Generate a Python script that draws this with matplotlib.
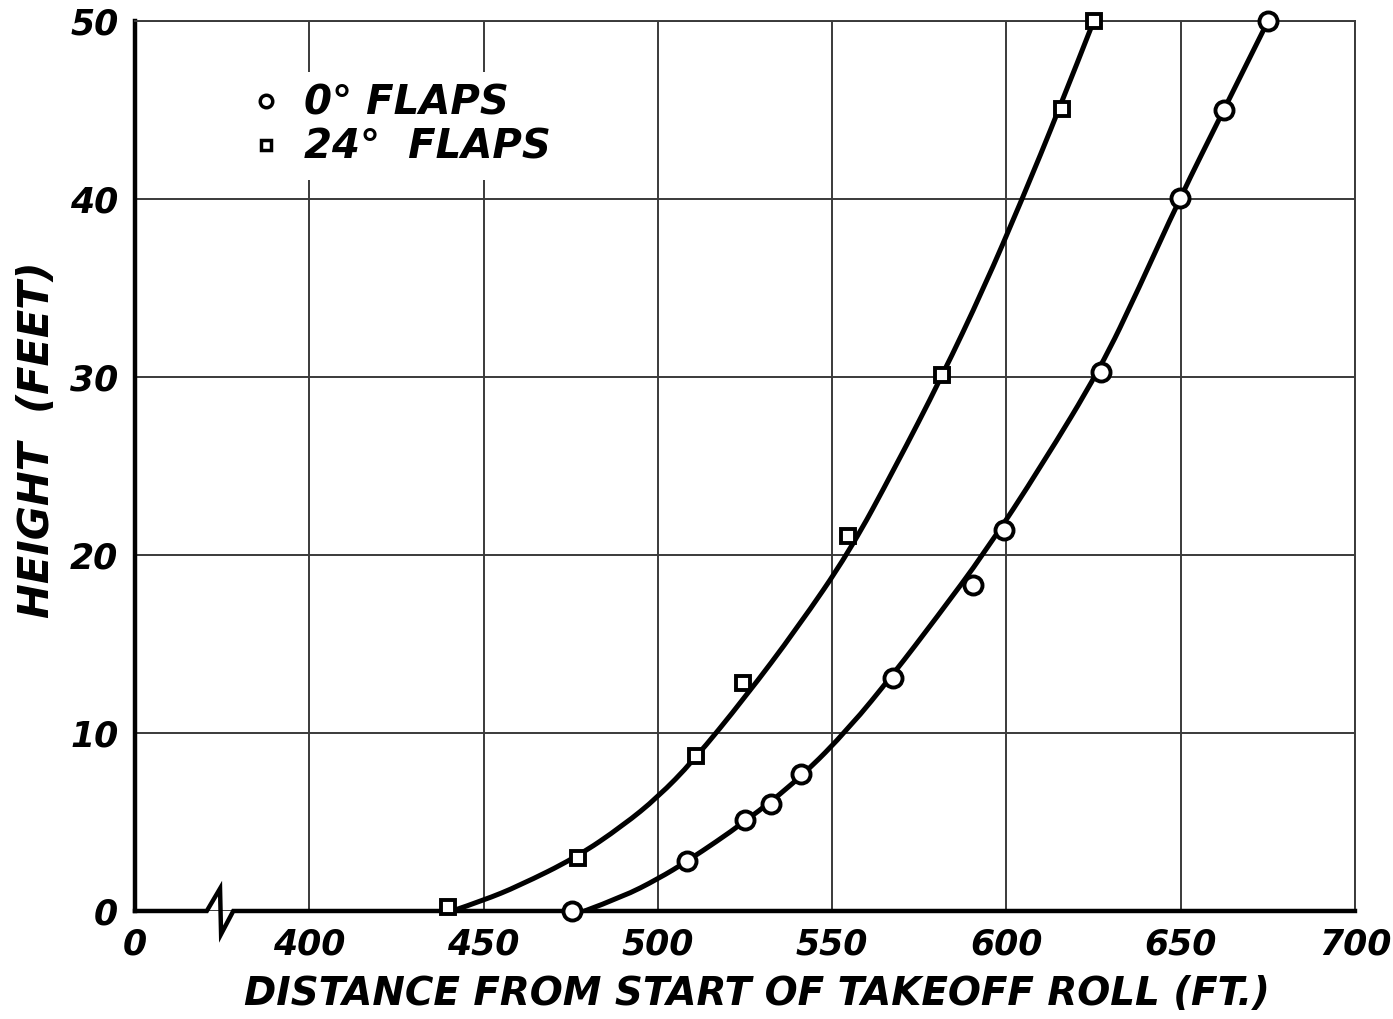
import numpy as np
import matplotlib.pyplot as plt
from matplotlib.lines import Line2D
from matplotlib.path import Path
from matplotlib.patches import PathPatch

plt.rcParams['font.family'] = 'DejaVu Sans'
plt.rcParams['font.weight'] = 'bold'
plt.rcParams['font.style'] = 'italic'

# test points, 0 deg flaps (circles)
flap0_x = [475.5, 508.5, 525.0, 532.5, 541.0, 567.5, 590.5, 599.2, 627.0, 649.7, 662.3, 675.0]
flap0_y = [0.0, 2.8, 5.1, 6.0, 7.7, 13.1, 18.3, 21.4, 30.3, 40.1, 45.0, 50.0]

# test points, 24 deg flaps (squares)
flap24_x = [439.8, 477.0, 511.0, 524.5, 554.5, 581.4, 616.0, 625.0]
flap24_y = [0.2, 3.0, 8.7, 12.8, 21.1, 30.1, 45.1, 50.0]

# faired curves
fair0_x = [479.0, 490.0, 500.0, 508.5, 525.0, 541.0, 555.0, 567.5, 580.0,
           594.0, 610.0, 627.0, 638.0, 649.6, 662.3, 675.0]
fair0_y = [0.0, 0.8, 1.8, 2.8, 5.0, 7.5, 10.3, 13.3, 16.5,
           20.2, 25.0, 30.5, 35.0, 40.0, 45.0, 50.0]
fair24_x = [441.0, 450.0, 460.0, 476.5, 490.0, 500.0, 510.0, 525.0, 540.0,
            555.0, 568.0, 581.4, 593.5, 604.5, 615.0, 625.0]
fair24_y = [0.0, 0.6, 1.4, 3.0, 4.8, 6.4, 8.4, 12.0, 15.9,
            20.2, 24.9, 30.0, 35.0, 40.0, 45.0, 50.0]

xticks = [350, 400, 450, 500, 550, 600, 650, 700]
xticklabels = ['0', '400', '450', '500', '550', '600', '650', '700']
yticks = [0, 10, 20, 30, 40, 50]

# zigzag marking the break in the distance scale
brk_x = [350, 370.6, 374.4, 374.7, 378.2, 700]
brk_y = [0, 0, 1.26, -1.3, 0, 0]


def faired(xs, ys):
    # quadratic spline path: listed points act as control points,
    # so the drawn line bends smoothly instead of at corners
    pts = list(zip(xs, ys))
    verts = [pts[0]]
    codes = [Path.MOVETO]
    for i in range(1, len(pts) - 1):
        mid = ((pts[i][0] + pts[i + 1][0]) / 2, (pts[i][1] + pts[i + 1][1]) / 2)
        if i == len(pts) - 2:
            mid = pts[i + 1]
        verts += [pts[i], mid]
        codes += [Path.CURVE3, Path.CURVE3]
    return Path(verts, codes)


fig = plt.figure(figsize=(13.93, 10.19), dpi=100)
ax = fig.add_axes([0.0969, 0.106, 0.8758, 0.873])

ax.set_xlim(350, 700)
ax.set_ylim(0, 50)
ax.set_xticks(xticks)
ax.set_xticklabels(xticklabels)
ax.set_yticks(yticks)
ax.tick_params(length=0, labelsize=25, pad=12)
ax.grid(True, color='#3a3a3a', lw=1.4)
ax.set_axisbelow(True)

for s in ['top', 'right']:
    ax.spines[s].set_color('#3a3a3a')
    ax.spines[s].set_linewidth(1.4)
ax.spines['bottom'].set_visible(False)
ax.spines['left'].set_linewidth(3.2)
ax.spines['left'].set_color('black')

ax.plot(brk_x, brk_y, color='black', lw=3.2, clip_on=False, zorder=4,
        solid_joinstyle='miter')

for fx, fy in [(fair0_x, fair0_y), (fair24_x, fair24_y)]:
    ax.add_patch(PathPatch(faired(fx, fy), fill=False, edgecolor='black', lw=3.6,
                           capstyle='round', zorder=5))

ax.plot(flap0_x, flap0_y, 'o', ms=13, mfc='white', mec='black', mew=2.8,
        clip_on=False, zorder=6)
ax.plot(flap24_x, flap24_y, 's', ms=10, mfc='white', mec='black', mew=2.8,
        clip_on=False, zorder=6)

handles = [Line2D([], [], ls='none', marker='o', ms=9, mfc='white', mec='black', mew=2.5),
           Line2D([], [], ls='none', marker='s', ms=7, mfc='white', mec='black', mew=2.5)]
leg = ax.legend(handles, ['0° FLAPS', '24°  FLAPS'], loc='upper left',
                bbox_to_anchor=(0.066, 0.966), fontsize=29, frameon=True,
                handletextpad=0.5, labelspacing=0.1, borderpad=0.3,
                handlelength=0.9)
leg.get_frame().set_facecolor('white')
leg.get_frame().set_edgecolor('none')
leg.get_frame().set_alpha(1)

ax.set_xlabel('DISTANCE FROM START OF TAKEOFF ROLL (FT.)', fontsize=28,
              fontweight='bold')
ax.xaxis.set_label_coords(0.51, -0.072)
ax.set_ylabel('HEIGHT  (FEET)', fontsize=30, fontweight='bold')
ax.yaxis.set_label_coords(-0.063, 0.53)

fig.savefig('out.png', dpi=100)
